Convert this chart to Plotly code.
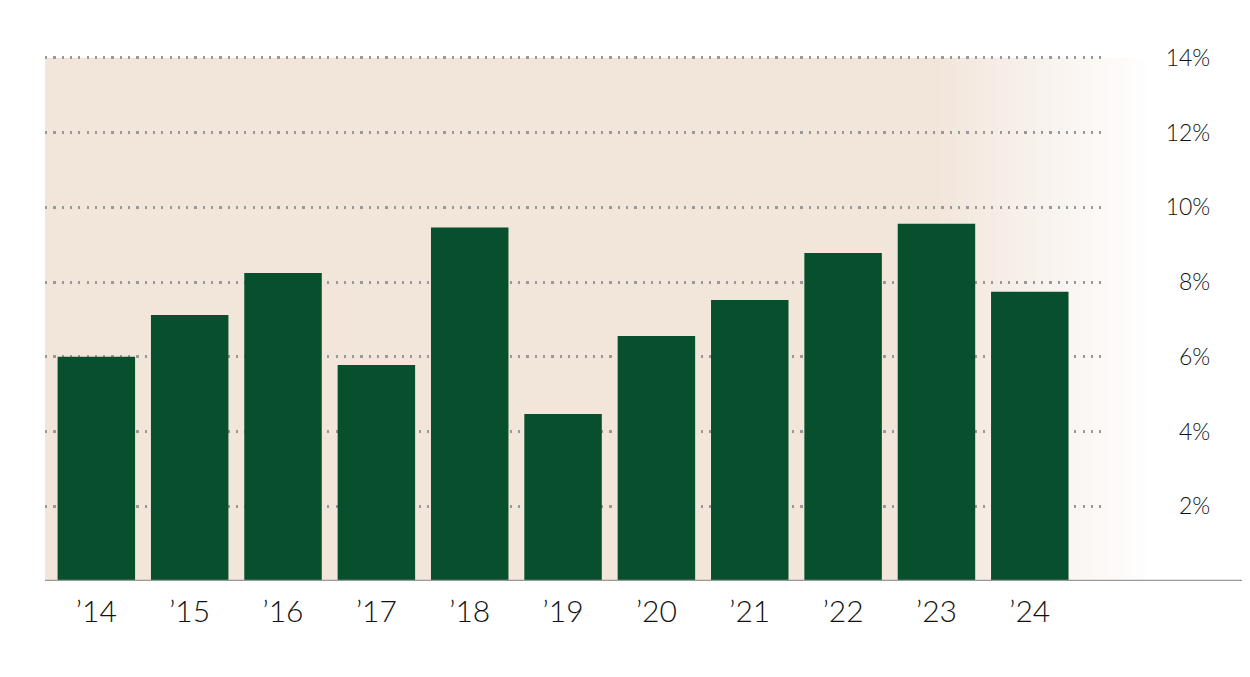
import plotly.graph_objects as go

years = ["\u201914", "\u201915", "\u201916", "\u201917", "\u201918", "\u201919",
         "\u201920", "\u201921", "\u201922", "\u201923", "\u201924"]
returns = [6.0, 7.12, 8.24, 5.78, 9.46, 4.47, 6.56, 7.52, 8.78, 9.56, 7.74]
y_ticks = [2, 4, 6, 8, 10, 12, 14]
y_tick_text = ["2%", "4%", "6%", "8%", "10%", "12%", "14%"]

BAR_GREEN = "#084f2d"
BEIGE = (242, 229, 218)
GRID = "#999999"

fig = go.Figure(go.Bar(
    x=years, y=returns,
    marker=dict(color=BAR_GREEN, line=dict(width=0)),
    hoverinfo="skip"))

# beige panel, fading out to white on the right
shapes = [dict(type="rect", xref="paper", yref="y", x0=0, x1=0.735,
               y0=0, y1=14, fillcolor="rgb(%d,%d,%d)" % BEIGE,
               line=dict(width=0), layer="below")]
steps = 40
fade_start, fade_end = 0.734, 0.92
for i in range(steps):
    t = (i + 0.5) / steps
    c = tuple(round(v + (255 - v) * t) for v in BEIGE)
    x0 = fade_start + (fade_end - fade_start) * i / steps
    x1 = fade_start + (fade_end - fade_start) * (i + 1) / steps + 0.001
    shapes.append(dict(type="rect", xref="paper", yref="y", x0=x0, x1=x1,
                       y0=0, y1=14, fillcolor="rgb(%d,%d,%d)" % c,
                       line=dict(width=0), layer="below"))
# baseline running to the right edge
shapes.append(dict(type="line", xref="paper", yref="y", x0=0, x1=1.01,
                   y0=0, y1=0, line=dict(color="#9a9a9a", width=2.5)))

# page body has an 8px margin, so the figure is sized to fit inside it
fig.update_layout(
    width=1242, height=669,
    margin=dict(l=37, r=0, t=48, b=96),
    paper_bgcolor="white",
    plot_bgcolor="rgba(0,0,0,0)",
    showlegend=False,
    bargap=0.17,
    shapes=shapes,
    font=dict(family="Lato", color="#111111"),
    xaxis=dict(
        domain=[0, 0.88],
        range=[-0.55, 10.81],
        showgrid=False, zeroline=False, showline=False,
        ticks="", ticklabelstandoff=10,
        tickfont=dict(size=30, family="Lato", weight=300, color="#111111")),
    yaxis=dict(
        range=[0, 14.05],
        anchor="free", position=0.967, side="left",
        tickvals=y_ticks, ticktext=y_tick_text,
        showgrid=True, gridcolor=GRID, gridwidth=2.5, griddash="2.2px,6.1px",
        zeroline=False, showline=False, ticks="",
        tickfont=dict(size=23, family="Lato", weight=300, color="#111111")),
)

fig.write_html("out.html")
